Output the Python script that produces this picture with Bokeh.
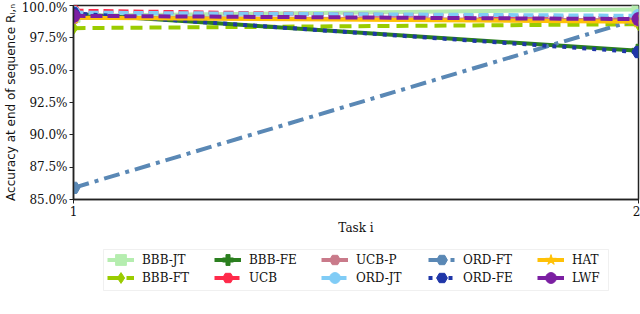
from bokeh.plotting import figure
from bokeh.layouts import column
from bokeh.models import Range1d, FixedTicker, PrintfTickFormatter, Legend, LegendItem, BoxAnnotation
from bokeh.embed import file_html
from bokeh.resources import INLINE

tasks = [1, 2]
names = ["BBB-JT", "BBB-FT", "BBB-FE", "UCB", "UCB-P", "ORD-JT", "ORD-FT", "ORD-FE", "HAT", "LWF"]
bbb_jt = [99.2, 99.7]
bbb_ft = [98.25, 98.55]
bbb_fe = [99.35, 96.5]
ucb = [99.6, 99.0]
ucb_p = [99.05, 98.85]
ord_jt = [99.45, 99.2]
ord_ft = [85.9, 98.95]
ord_fe = [99.4, 96.4]
hat = [99.05, 98.75]
lwf = [99.2, 98.95]
series = [bbb_jt, bbb_ft, bbb_fe, ucb, ucb_p, ord_jt, ord_ft, ord_fe, hat, lwf]
y_ticks = [85.0, 87.5, 90.0, 92.5, 95.0, 97.5, 100.0]

colors = ["#b5edaf", "#9acc00", "#2b7f1f", "#ff2a4a", "#c97a8a", "#80ccf6", "#5a88b5", "#1f36a8", "#ffc107", "#7b1fa2"]
dashes = ["solid", "12 7", "solid", "10 5", "solid", "10 5", "16 6 4 6", "4 6", "solid", "12 5"]
markers = ["square", "diamond", "plus", "hex", "hex", "circle", "hex", "hex", "star", "circle"]

FL = 73  # frame left border (px)

p = figure(width=640, height=240, output_backend="svg", toolbar_location=None,
           x_range=Range1d(1, 2), y_range=Range1d(85, 100),
           min_border_left=FL, min_border_right=2, min_border_top=5, min_border_bottom=41)
p.grid.visible = False
p.outline_line_color = "#222222"
p.outline_line_width = 1.5

# legend-only figure; its glyph prototypes lie outside its (empty) view
lg = figure(width=640, height=74, output_backend="svg", toolbar_location=None,
            x_range=Range1d(10, 11), y_range=Range1d(0, 1),
            x_axis_location=None, y_axis_location=None,
            min_border_left=FL, min_border_right=2, min_border_top=0, min_border_bottom=0)
lg.grid.visible = False
lg.outline_line_color = None

items = []
for name, ys, c, d, m in zip(names, series, colors, dashes, markers):
    p.line(tasks, ys, line_color=c, line_width=4, line_dash=d)
    p.scatter(tasks, ys, marker=m, size=13, fill_color=c, line_color=c)
    l1 = lg.line(tasks, ys, line_color=c, line_width=4, line_dash=d)
    l2 = lg.scatter(tasks, ys, marker=m, fill_color=c, line_color=c)
    items.append(LegendItem(label=name, renderers=[l1, l2]))

p.xaxis.ticker = FixedTicker(ticks=tasks)
p.xaxis.axis_label = "Task i"
p.yaxis.ticker = FixedTicker(ticks=y_ticks)
p.yaxis.formatter = PrintfTickFormatter(format="%.1f%%")
p.yaxis.axis_label = "Accuracy at end of sequence Rₗ,ₙ"
for ax in [p.xaxis[0], p.yaxis[0]]:
    ax.minor_tick_line_color = None
    ax.major_tick_out = 4
    ax.major_tick_in = 0
    ax.axis_line_color = "#222222"
    ax.axis_line_width = 1.5
    ax.major_tick_line_color = "#222222"
    ax.major_label_text_font = "DejaVu Serif"
    ax.major_label_text_font_size = "12px"
    ax.major_label_text_color = "#111111"
    ax.major_label_standoff = 2
    ax.axis_label_text_font_style = "normal"
    ax.axis_label_text_color = "#111111"
p.xaxis.axis_label_text_font = "DejaVu Serif"
p.xaxis.axis_label_text_font_size = "12px"
p.xaxis.axis_label_standoff = 2
p.yaxis.axis_label_text_font = "DejaVu Sans"
p.yaxis.axis_label_text_font_size = "12px"
p.yaxis.axis_label_standoff = 1

# legend grid: 5 columns x 2 rows, column-first (page x of glyph start, row bottom offsets)
col_x = [107, 214, 321, 428, 537]
row_vy = [41, 23]
for k, it in enumerate(items):
    leg = Legend(items=[it], location=(col_x[k // 2] - FL, row_vy[k % 2]))
    leg.label_text_font = "DejaVu Serif"
    leg.label_text_font_size = "12px"
    leg.label_text_color = "#111111"
    leg.glyph_width = 27
    leg.glyph_height = 27
    leg.label_height = 27
    leg.label_standoff = 8
    leg.padding = 0
    leg.margin = 0
    leg.border_line_color = None
    leg.background_fill_alpha = 0
    lg.add_layout(leg, "center")

lg.add_layout(BoxAnnotation(left=103 - FL, right=608 - FL, top=65, bottom=24,
                            left_units="screen", right_units="screen",
                            top_units="screen", bottom_units="screen",
                            fill_alpha=0, line_color="#cccccc", line_width=1))

open("out.html", "w").write(file_html(column(p, lg, spacing=0), INLINE))
